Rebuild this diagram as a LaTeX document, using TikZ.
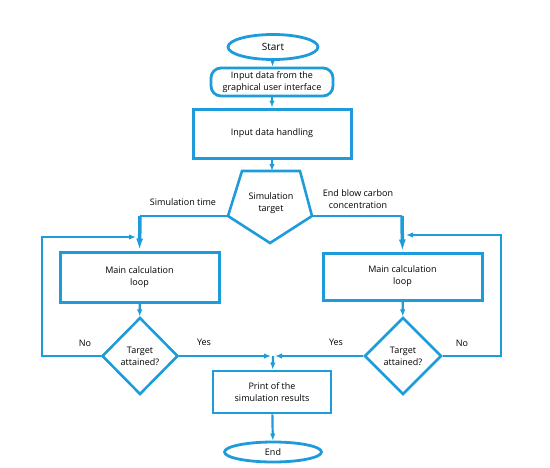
\documentclass[tikz,border=0pt]{standalone}
\usepackage{fontspec}
\setmainfont{Open Sans}
\usetikzlibrary{shapes.geometric,arrows.meta}
\definecolor{fc}{RGB}{30,155,218}
\tikzset{
  box/.style={draw=fc,line width=3pt,rectangle,align=center,font=\fontsize{9}{12}\selectfont,inner sep=0pt},
  oval/.style={draw=fc,line width=2.8pt,ellipse,align=center,font=\fontsize{9}{12}\selectfont,inner sep=0pt},
  dia/.style={draw=fc,line width=2.6pt,diamond,align=center,font=\fontsize{9}{12}\selectfont,inner sep=0pt},
  conn/.style={draw=fc,line width=2.2pt,-{Latex[length=7pt,width=5.5pt]}},
  thickconn/.style={draw=fc,line width=3.5pt,-{Latex[length=12pt,width=7pt]}},
  lbl/.style={font=\fontsize{9}{12}\selectfont,align=center,inner sep=0pt}
}
\begin{document}
\begin{tikzpicture}[x=1pt,y=-1pt]
\useasboundingbox (0,0) rectangle (550,467);
% nodes
\node[oval,minimum width=90pt,minimum height=25pt,font=\fontsize{10}{12}\selectfont] (start) at (273,47) {Start};
\node[box,rounded corners=10pt,line width=2.8pt,minimum width=122pt,minimum height=28pt] (gui) at (272,82) {Input data from the\\graphical user interface};
\node[box,minimum width=158pt,minimum height=49pt] (hand) at (272,133.5) {Input data handling};
% pentagon
\coordinate (tA) at (242,171);
\coordinate (tB) at (300,171);
\coordinate (tR) at (312,216);
\coordinate (tBot) at (270,243);
\coordinate (tL) at (228,216);
\coordinate (tTop) at (272,171);
\draw[fc,line width=2.6pt,line join=miter] (tA) -- (tB) -- (tR) -- (tBot) -- (tL) -- cycle;
\node[lbl] (target) at (271,203.5) {Simulation\\target};
\node[box,minimum width=159pt,minimum height=50pt] (m1) at (139.5,277) {Main calculation\\loop};
\node[box,minimum width=159pt,minimum height=47pt] (m2) at (402.5,276.5) {Main calculation\\loop};
\node[dia,minimum width=76pt,minimum height=77pt] (d1) at (140,356) {Target\\attained?};
\node[dia,minimum width=77pt,minimum height=77pt] (d2) at (403,356) {Target\\attained?};
\node[box,line width=2.8pt,minimum width=118pt,minimum height=42pt] (print) at (272,392) {Print of the\\simulation results};
\node[oval,minimum width=97pt,minimum height=20pt] (end) at (273,452) {End};
% coordinates
\coordinate (lc) at (140,216);
\coordinate (rc) at (402,216);
\coordinate (j) at (273,356);
\coordinate (jl) at (271,356);
\coordinate (jr) at (275,356);
\coordinate (lb) at (42,356);
\coordinate (lt) at (42,237);
\coordinate (le) at (136,237);
\coordinate (rb) at (501,356);
\coordinate (rt) at (501,235);
\coordinate (re) at (406,235);
% connectors
\draw[conn] (start) -- (gui);
\draw[conn] (gui) -- (hand);
\draw[conn] (hand) -- (tTop);
\draw[fc,line width=2.2pt] (tL) -- (lc);
\draw[thickconn] (lc) -- (m1.north);
\draw[fc,line width=2.2pt] (tR) -- (rc);
\draw[thickconn] (rc) -- (m2.north);
\draw[conn] (m1) -- (d1);
\draw[conn] (m2) -- (d2);
\draw[conn] (d1.west) -- (lb) -- (lt) -- (le);
\draw[conn] (d2.east) -- (rb) -- (rt) -- (re);
\draw[conn] (d1.east) -- (jl);
\draw[conn] (d2.west) -- (jr);
\draw[conn] (j) -- (print);
\draw[conn] (print) -- (end);
% labels
\node[lbl] (lsim) at (183,202) {Simulation time};
\node[lbl] (lend) at (358,199) {End blow carbon\\concentration};
\node[lbl] (no1) at (85,343) {No};
\node[lbl] (yes1) at (204,342) {Yes};
\node[lbl] (yes2) at (336,342) {Yes};
\node[lbl] (no2) at (462,343) {No};
\end{tikzpicture}
\end{document}
